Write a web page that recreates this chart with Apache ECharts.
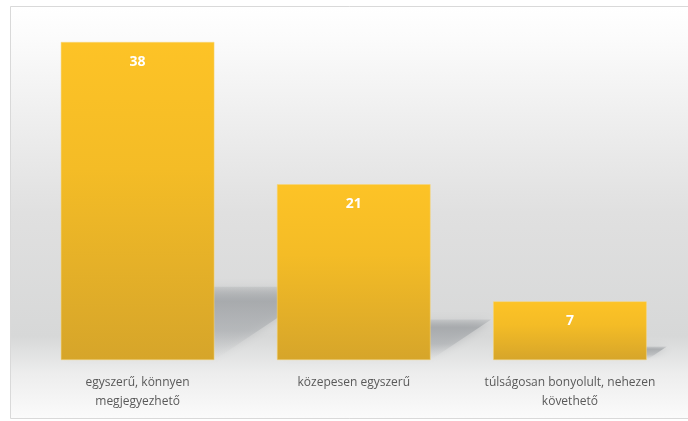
<!DOCTYPE html>
<html lang="hu">
<head>
    <meta charset="UTF-8">
    <title>Értékelés</title>
    <script src="https://cdn.jsdelivr.net/npm/echarts@6/dist/echarts.min.js"></script>
    <style>
        html, body { margin: 0; padding: 0; background: #fff; }
        #chart { width: 688px; height: 421px; }
    </style>
</head>
<body>
<div id="chart"></div>
<script type="text/javascript">
    var categories = ['egyszerű, könnyen\nmegjegyezhető', 'közepesen egyszerű', 'túlságosan bonyolult, nehezen\nkövethető'];
    var values = [38, 21, 7];

    var chart = echarts.init(document.getElementById('chart'));

    // árnyék a hasábok mögött (perspektivikus)
    function renderShadow(params, api) {
        var idx = params.dataIndex;
        var v = api.value(1);
        var base = api.coord([idx, 0]);
        var top = api.coord([idx, v]);
        var bw = api.size([1, 0])[0] * 0.71;
        var h = (base[1] - top[1]) * 0.23;
        var dx = h * 1.5;
        var x0 = base[0] - bw / 2, x1 = base[0] + bw / 2, y = base[1];
        return {
            type: 'polygon',
            shape: { points: [[x0, y], [x1, y], [x1 + dx, y - h], [x0 + dx, y - h]] },
            style: {
                fill: new echarts.graphic.LinearGradient(0, 0, 0, 1, [
                    { offset: 0, color: 'rgba(165,168,171,0.3)' },
                    { offset: 0.2, color: 'rgba(165,168,171,0.85)' },
                    { offset: 0.6, color: 'rgba(175,178,181,0.6)' },
                    { offset: 1, color: 'rgba(215,216,217,0.05)' }
                ]),
                shadowBlur: 10,
                shadowColor: 'rgba(160,163,166,0.7)'
            }
        };
    }

    var option = {
        animation: false,
        graphic: [{
            type: 'rect',
            z: -10,
            shape: { x: 10.5, y: 6.5, width: 700, height: 412 },
            style: {
                stroke: '#d9d9d9',
                lineWidth: 1,
                fill: new echarts.graphic.LinearGradient(0, 0, 0, 1, [
                    { offset: 0, color: '#ffffff' },
                    { offset: 0.08, color: '#fbfbfb' },
                    { offset: 0.5, color: '#e0e0e0' },
                    { offset: 0.8, color: '#d7d8d8' },
                    { offset: 0.85, color: '#e3e4e4' },
                    { offset: 0.89, color: '#ededed' },
                    { offset: 1, color: '#fbfbfb' }
                ])
            }
        }],
        grid: { left: 29.5, right: 10, top: 42, bottom: 61 },
        xAxis: {
            type: 'category',
            data: categories,
            axisLine: { show: false },
            axisTick: { show: false },
            axisLabel: {
                interval: 0,
                color: '#595959',
                fontFamily: 'Open Sans',
                fontSize: 12,
                lineHeight: 19,
                margin: 13
            }
        },
        yAxis: {
            type: 'value',
            min: 0,
            max: 38,
            show: false,
            splitLine: { show: false }
        },
        series: [{
            type: 'custom',
            renderItem: renderShadow,
            data: values.map(function (v, i) { return [i, v]; }),
            z: 1,
            silent: true
        }, {
            type: 'bar',
            data: values,
            barWidth: '71%',
            z: 2,
            itemStyle: {
                color: new echarts.graphic.LinearGradient(0, 0, 0, 1, [
                    { offset: 0, color: '#fdc326' },
                    { offset: 0.4, color: '#f4bc26' },
                    { offset: 1, color: '#d6a52a' }
                ]),
                borderColor: '#f7d77a',
                borderWidth: 0.5
            },
            label: {
                show: true,
                position: 'insideTop',
                distance: 13,
                color: '#ffffff',
                fontWeight: 'bold',
                fontFamily: 'Open Sans',
                fontSize: 14
            }
        }]
    };
    chart.setOption(option);
</script>
</body>
</html>
